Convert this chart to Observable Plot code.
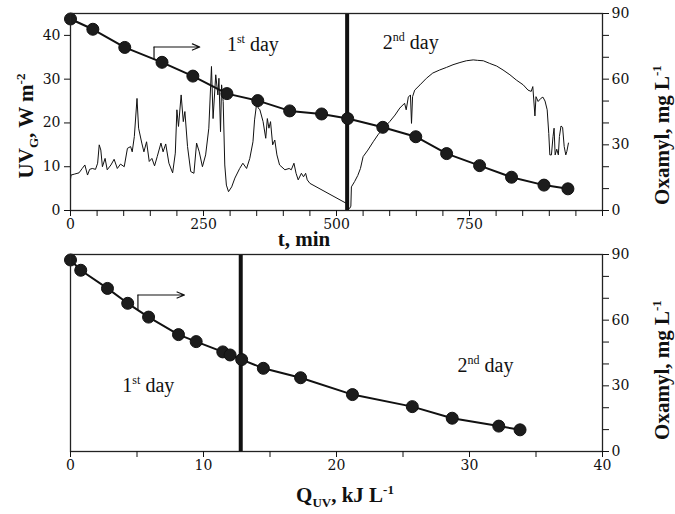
<!DOCTYPE html>
<html><head><meta charset="utf-8">
<script src="https://cdn.jsdelivr.net/npm/d3@7"></script>
<script src="https://cdn.jsdelivr.net/npm/@observablehq/plot@0.6"></script>
<style>
html,body{margin:0;padding:0;background:#fff;overflow:hidden;}
#chart{position:relative;width:675px;height:514px;}
#chart svg{display:block;position:absolute;left:0;overflow:visible;}
</style></head><body><div id="chart"></div>
<script>
// Oxamyl samples
const sampleTime = [0, 42, 102, 172, 230, 294, 352, 412, 472, 521, 587, 649, 707, 769, 829, 890, 935];
const sampleDose = [0, 0.77, 2.78, 4.3, 5.87, 8.12, 9.45, 11.45, 12.0, 12.87, 14.5, 17.3, 21.2, 25.7, 28.7, 32.2, 33.8];
const oxamyl = [87.5, 82.8, 74.5, 67.7, 61.4, 53.4, 50.2, 45.5, 44.1, 42.0, 38.0, 33.7, 26.0, 20.5, 15.2, 11.6, 9.9];

// Global UV irradiance trace (W m-2) vs time (min)
const uvTime = [0, 1, 7, 16, 22, 27, 32, 36, 41, 47, 51, 54, 57, 60, 65, 69, 76, 82, 88, 94, 101, 107, 113, 116, 120, 125, 128, 134, 138, 143, 148, 153, 158, 163, 170, 174, 179, 185, 192, 197, 200, 203, 208, 212, 215, 220, 226, 232, 237, 242, 248, 254, 260, 265, 268, 273, 277, 279, 282, 284, 287, 290, 293, 297, 303, 309, 318, 324, 331, 337, 343, 346, 350, 353, 356, 362, 367, 370, 373, 376, 380, 384, 388, 393, 403, 411, 415, 420, 424, 428, 434, 438, 442, 445, 450, 519, 522,
  525, 527, 528, 534, 540, 545, 550, 559, 569, 578, 588, 600, 610, 619, 628, 631, 635, 639, 641, 643, 647, 657, 669, 681, 694, 707, 719, 732, 744, 757, 765, 776, 788, 801, 813, 826, 838, 851, 860, 866, 869, 873, 875, 879, 884, 888, 892, 896, 899, 901, 904, 907, 909, 911, 914, 917, 919, 922, 925, 928, 931, 933, 936];
const uvIrr = [7.1, 8.1, 8.3, 8.6, 9.6, 10.4, 8.1, 9.4, 9.6, 9.4, 10.8, 15.0, 13.8, 10.0, 11.9, 9.3, 10.4, 11.7, 9.6, 10.6, 10.0, 14.2, 14.6, 13.4, 16.9, 25.6, 18.8, 15.4, 13.4, 15.7, 11.2, 11.9, 10.2, 12.3, 15.4, 13.4, 15.2, 10.8, 8.6, 13.1, 23.0, 19.2, 26.4, 20.3, 22.6, 14.6, 8.9, 8.5, 15.4, 13.4, 10.0, 12.7, 18.8, 32.9, 21.0, 31.0, 26.4, 30.2, 18.0, 28.7, 24.9, 10.4, 5.8, 4.3, 5.4, 7.4, 9.6, 10.8, 9.6, 11.9, 15.7, 20.7, 24.5, 23.4, 23.0, 20.3, 16.5, 21.0, 18.8, 20.3, 15.0, 16.1, 12.7, 10.4, 9.3, 9.6, 9.3, 10.8, 8.5, 7.0, 8.5, 7.7, 8.5, 7.0, 6.2, 1.6, 0.5,
  0.5, 1.0, 5.4, 6.6, 8.0, 9.6, 12.3, 13.8, 15.7, 17.3, 18.8, 20.3, 21.8, 23.4, 24.5, 23.0, 25.9, 26.4, 19.9, 26.0, 27.5, 28.7, 30.2, 31.4, 32.1, 32.7, 33.3, 33.8, 34.2, 34.4, 34.3, 34.2, 33.6, 33.0, 32.1, 31.0, 29.8, 28.7, 27.5, 27.2, 28.3, 21.6, 26.0, 24.9, 25.6, 25.9, 25.0, 23.0, 17.6, 12.7, 12.7, 16.9, 18.8, 12.7, 14.0, 12.7, 16.9, 19.3, 19.0, 14.6, 12.7, 13.5, 15.4];

// Day separators
const dayBreakTime = [520];
const dayBreakDose = [12.8];

// Tick labels
const timeTickLabels = [0, 250, 500, 750];
const uvTickLabels = [0, 10, 20, 30, 40];
const oxTickLabels = [0, 30, 60, 90];
const doseTickLabels = [0, 10, 20, 30, 40];

// Annotations
const dayText = ["1st day", "2nd day"];
const dayTextTime = [294, 587];
const dayTextTimeY = [76, 76.5];
const dayTextDose = [3.9, 29.1];
const dayTextDoseY = [30, 39.2];
const arrowTopX = [157, 157, 243];
const arrowTopY = [69.3, 74.7, 74.7];
const arrowBotX = [5.07, 5.07, 8.57];
const arrowBotY = [65, 71.5, 71.5];

const samples = sampleTime.map((t, i) => ({t, q: sampleDose[i], ox: oxamyl[i]}));
const uvTable = uvTime.map((t, i) => ({t, uv: uvIrr[i]}));
const dayTop = dayText.map((s, i) => ({s, x: dayTextTime[i], y: dayTextTimeY[i]}));
const dayBot = dayText.map((s, i) => ({s, x: dayTextDose[i], y: dayTextDoseY[i]}));

const style = {fontFamily: "'DejaVu Serif', serif", fontSize: "14px", color: "#111", background: "transparent", overflow: "visible"};
const ink = "#111";

function arrowMarks(xs, ys) {
  const pts = xs.map((x, i) => ({x, y: ys[i]}));
  return [
    Plot.line(pts.slice(0, 2), {x: "x", y: "y", stroke: ink, strokeWidth: 1.2}),
    Plot.arrow([{x1: xs[1], y1: ys[1], x2: xs[2], y2: ys[2]}], {x1: "x1", y1: "y1", x2: "x2", y2: "y2", stroke: ink, strokeWidth: 1.2, headLength: 10, headAngle: 45})
  ];
}

const topPlot = Plot.plot({
  width: 675, height: 256,
  marginLeft: 70, marginRight: 73, marginTop: 13, marginBottom: 46,
  style,
  x: {domain: [0, 1000]},
  y: {domain: [0, 90]},
  marks: [
    Plot.line(uvTable, {x: "t", y: d => d.uv * 2, stroke: ink, strokeWidth: 1}),
    Plot.ruleX(dayBreakTime, {stroke: ink, strokeWidth: 4}),
    Plot.line(samples, {x: "t", y: "ox", stroke: ink, strokeWidth: 2}),
    Plot.dot(samples, {x: "t", y: "ox", r: 6, fill: "#1c1c1c", stroke: ink, strokeWidth: 1}),
    ...arrowMarks(arrowTopX, arrowTopY),
    Plot.text(dayTop, {x: "x", y: "y", text: "s", textAnchor: "start", fontFamily: "'Liberation Serif', serif", fontSize: 20, fill: ink}),
    Plot.frame({stroke: "#222", strokeWidth: 1.3}),
    Plot.axisX({ticks: d3.range(0, 1001, 50), tickFormat: d => timeTickLabels.includes(d) ? d : "", tickSize: 6, tickPadding: 3, label: null}),
    Plot.axisY({anchor: "left", ticks: uvTickLabels.map(v => v * 2), tickFormat: d => d / 2, tickSize: 6, tickPadding: 4, label: null}),
    Plot.axisY({anchor: "right", ticks: d3.range(0, 91, 10), tickFormat: d => oxTickLabels.includes(d) ? d : "", tickSize: 6, tickPadding: 3, label: null})
  ]
});

const botPlot = Plot.plot({
  width: 675, height: 274,
  marginLeft: 70, marginRight: 73, marginTop: 14, marginBottom: 63,
  style,
  x: {domain: [0, 40]},
  y: {domain: [0, 90]},
  marks: [
    Plot.ruleX(dayBreakDose, {stroke: ink, strokeWidth: 4}),
    Plot.line(samples, {x: "q", y: "ox", stroke: ink, strokeWidth: 2}),
    Plot.dot(samples, {x: "q", y: "ox", r: 6, fill: "#1c1c1c", stroke: ink, strokeWidth: 1}),
    ...arrowMarks(arrowBotX, arrowBotY),
    Plot.text(dayBot, {x: "x", y: "y", text: "s", textAnchor: "start", fontFamily: "'Liberation Serif', serif", fontSize: 20, fill: ink}),
    Plot.frame({stroke: "#222", strokeWidth: 1.3}),
    Plot.axisX({ticks: d3.range(0, 41, 5), tickFormat: d => doseTickLabels.includes(d) ? d : "", tickSize: 6, tickPadding: 3, label: null}),
    Plot.axisY({anchor: "right", ticks: d3.range(0, 91, 10), tickFormat: d => oxTickLabels.includes(d) ? d : "", tickSize: 6, tickPadding: 3, label: null})
  ]
});

function rich(sel, parts, size) {
  sel.text(null);
  let shift = 0;
  for (const [s, kind] of parts) {
    const want = kind === "sup" ? -0.4 * size : kind === "sub" ? 0.25 * size : 0;
    const ts = sel.append("tspan").text(s);
    if (want - shift !== 0) ts.attr("dy", want - shift);
    if (kind) ts.attr("font-size", Math.round(size * 0.62));
    shift = want;
  }
}

function fixDays(svg) {
  d3.select(svg).selectAll("text").filter(function() { return this.textContent === "1st day"; })
    .each(function() { rich(d3.select(this), [["1"], ["st", "sup"], [" day"]], 20); });
  d3.select(svg).selectAll("text").filter(function() { return this.textContent === "2nd day"; })
    .each(function() { rich(d3.select(this), [["2"], ["nd", "sup"], [" day"]], 20); });
}

function title(svg, x, y, rot, parts) {
  const t = d3.select(svg).append("text")
    .attr("transform", `translate(${x},${y})` + (rot ? ` rotate(${rot})` : ""))
    .attr("text-anchor", "middle")
    .attr("font-family", "'Liberation Serif', serif")
    .attr("font-weight", "bold")
    .attr("font-size", 21)
    .attr("fill", ink);
  rich(t, parts, 21);
}

fixDays(topPlot);
fixDays(botPlot);
title(topPlot, 33, 126, -90, [["UV"], ["G", "sub"], [", W m"], ["-2", "sup"]]);
title(topPlot, 669, 135, -90, [["Oxamyl, mg L"], ["-1", "sup"]]);
title(topPlot, 304, 246, 0, [["t, min"]]);
title(botPlot, 669, 130, -90, [["Oxamyl, mg L"], ["-1", "sup"]]);
title(botPlot, 345, 262, 0, [["Q"], ["UV", "sub"], [", kJ L"], ["-1", "sup"]]);

topPlot.style.top = "0px";
botPlot.style.top = "240px";
document.getElementById("chart").append(topPlot, botPlot);
</script>
</body></html>
